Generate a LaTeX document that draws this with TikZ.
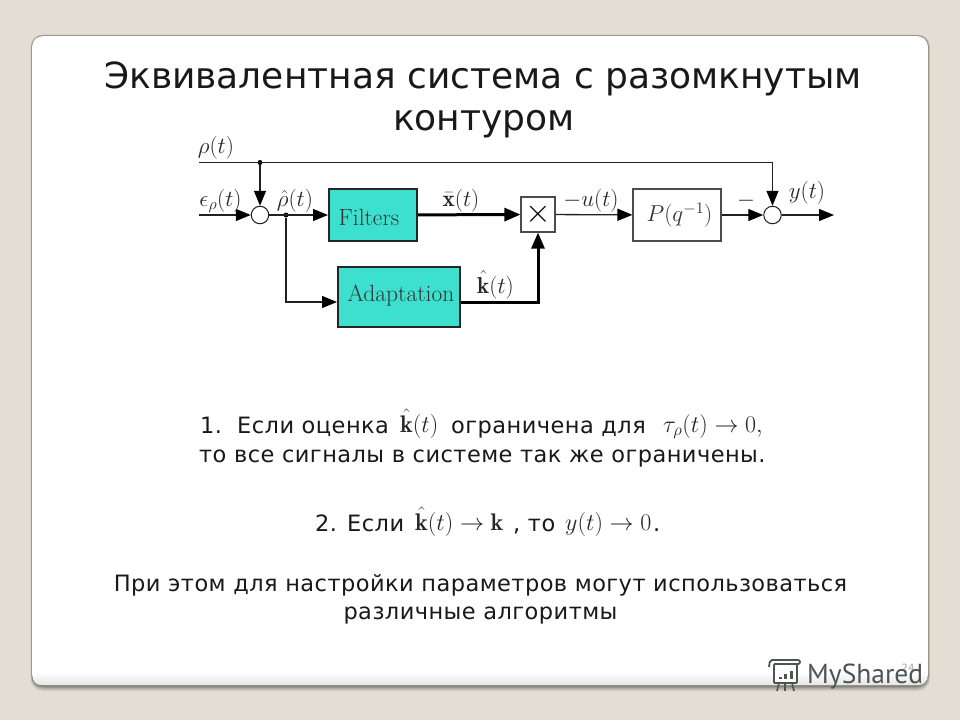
\documentclass[tikz,border=0pt]{standalone}
\usepackage{fix-cm}
\usepackage{fontspec}
\usetikzlibrary{arrows.meta}
\newfontfamily\slidefont{DejaVu Sans}
\newfontfamily\bodyfont[LetterSpace=2]{DejaVu Sans}
\newfontfamily\markfont{PT Sans}
\definecolor{slidebg}{HTML}{E3DDD3}
\definecolor{blockfill}{HTML}{3DE0CE}
\definecolor{linecol}{HTML}{202020}
\definecolor{markcol}{HTML}{4A5550}
\tikzset{
    sig/.style={line width=1.3, color=linecol, arrows=-{Triangle[length=15, width=12, color=black]}},
    sigbold/.style={line width=3, color=black, arrows=-{Triangle[length=16, width=13]}},
    wire/.style={line width=1.3, color=linecol},
    sumnode/.style={draw=linecol, line width=1, circle, fill=white, minimum size=17.5, inner sep=0},
    dotnode/.style={fill=black, circle, minimum size=5, inner sep=0},
    block/.style={draw=black!70, line width=1.1, fill=white, inner sep=0},
    tealblock/.style={draw=black!85, line width=2, fill=blockfill, inner sep=0},
    blocktext/.style={inner sep=0, color=black!80, font=\fontsize{23.5}{28}\selectfont},
    lbl/.style={anchor=base, inner sep=0, color=black!85, font=\fontsize{23}{28}\selectfont},
    body/.style={anchor=base west, inner sep=0, color=black!90, font=\bodyfont\fontsize{22.5}{26}\selectfont},
    bodymid/.style={body, anchor=base},
    formula/.style={anchor=base west, inner sep=0, color=black!85, font=\fontsize{24}{28}\selectfont},
    title/.style={anchor=base, inner sep=0, color=black!90, font=\slidefont\fontsize{36}{44}\selectfont}
}
\begin{document}
\begin{tikzpicture}[x=1pt, y=-1pt]
    \useasboundingbox (0, 0) rectangle (960, 720);

    % Slide:
    \fill[slidebg] (0, 0) rectangle (960, 720);
    \foreach \d/\o in {6/0.06, 5/0.07, 4/0.09, 3/0.11, 2/0.13, 1/0.15}
        \fill[black, opacity=\o, rounded corners=12] (32-\d/4, 36-\d/4) rectangle (928+\d/3, 685+\d);
    \fill[white, rounded corners=11] (32, 36) rectangle (928, 685);
    \shade[top color=white, bottom color=black!10, rounded corners=8] (33, 672) rectangle (927, 685);

    % Title:
    \node[title] (titleA) at (483, 88) {Эквивалентная система с разомкнутым};
    \node[title] (titleB) at (484, 130) {контуром};

    % Blocks:
    \node[sumnode] (sumA) at (260, 215) {};
    \node[sumnode] (sumB) at (772.5, 215) {};
    \node[dotnode] (dotA) at (260, 162.5) {};
    \node[dotnode] (dotB) at (286, 215) {};
    \node[tealblock, minimum width=88, minimum height=52] (filters) at (373, 215) {};
    \node[tealblock, minimum width=122, minimum height=60] (adapt) at (399, 297) {};
    \node[block, minimum width=34, minimum height=35, font=\fontsize{33}{33}\selectfont] (mult) at (538, 214.5) {$\times$};
    \node[block, minimum width=88, minimum height=52] (plant) at (677, 215) {};

    % Block texts:
    \node[blocktext] (filtersText) at (369, 217) {Filters};
    \node[blocktext] (adaptText) at (401, 295) {Adaptation};
    \node[blocktext, font=\fontsize{23}{28}\selectfont] (plantText) at (679.5, 215) {$P(q^{-1})$};

    % Free ends:
    \coordinate (rhoIn) at (199, 162.5);
    \coordinate (epsIn) at (199, 215);
    \coordinate (rhoTurn) at (772.5, 162.5);
    \coordinate (outEnd) at (834, 215);
    \coordinate (adaptIn) at (286, 302);
    \coordinate (adaptOut) at (538, 302);

    % Connectors:
    \draw[wire] (rhoIn) -- (rhoTurn);
    \draw[sig] (rhoTurn) -- (sumB);
    \draw[sig] (dotA) -- (sumA);
    \draw[sig] (epsIn) -- (sumA);
    \draw[sig] (sumA) -- (filters);
    \draw[sig] (dotB) -- (adaptIn) -- (adapt.west |- adaptIn);
    \draw[sigbold] (filters) -- (mult);
    \draw[sigbold] (adapt.east |- adaptOut) -- (adaptOut) -- (mult);
    \draw[sig] (mult) -- (plant);
    \draw[sig] (plant) -- (sumB);
    \draw[sig] (sumB) -- (outEnd);

    % Labels in diagram:
    \node[lbl] (rhoLbl) at (216, 153) {$\rho(t)$};
    \node[lbl] (epsLbl) at (220.5, 206) {$\epsilon_\rho(t)$};
    \node[lbl] (rhoHatLbl) at (295, 206) {$\hat\rho(t)$};
    \node[lbl] (xLbl) at (461, 206) {$\bar{\mathbf{x}}(t)$};
    \node[lbl] (kLbl) at (495.5, 293) {$\hat{\mathbf{k}}(t)$};
    \node[lbl] (uLbl) at (591, 206) {$-u(t)$};
    \node[lbl] (minusLbl) at (746, 206.5) {$-$};
    \node[lbl] (yLbl) at (807, 198) {$y(t)$};

    % Text:
    \node[body] (numA) at (200, 433.5) {1.};
    \node[body] (ifA) at (237, 433.5) {Если оценка};
    \node[formula] (formA) at (400, 432) {$\hat{\mathbf{k}}(t)$};
    \node[body] (boundA) at (451, 433.5) {ограничена для};
    \node[formula] (formB) at (663, 432) {$\tau_\rho(t)\to 0,$};
    \node[body] (lineB) at (199, 462) {то все сигналы в системе так же ограничены.};
    \node[body] (numB) at (315, 531) {2. Если};
    \node[formula] (formC) at (415, 530) {$\hat{\mathbf{k}}(t)\to\mathbf{k}$};
    \node[body] (thenB) at (513, 531) {, то};
    \node[formula] (formD) at (565, 530) {$y(t)\to 0$};
    \node[body] (stopB) at (653, 531) {.};
    \node[bodymid] (noteA) at (480.5, 591) {При этом для настройки параметров могут использоваться};
    \node[bodymid] (noteB) at (480.5, 619) {различные алгоритмы};

    % Page number and mark:
    \node[anchor=base, inner sep=0, color=black!35, font=\slidefont\fontsize{10}{12}\selectfont] (pageNum) at (908, 671) {24};
    \node[anchor=base west, inner sep=0, color=markcol, font=\markfont\fontsize{27.5}{30}\selectfont] (markText) at (807, 683) {MyShared};
    \draw[markcol, line width=1.8, fill=white, rounded corners=1] (774, 664) rectangle (797, 683);
    \draw[markcol, line width=1.8, rounded corners=2] (769, 667) -- (770, 660) -- (800, 660) -- (800, 664) -- (774, 664);
    \foreach \x/\h in {780/2, 785/5, 791/8}
        \fill[markcol] (\x-1.5, 679) rectangle (\x+1.5, 679-\h);
    \foreach \a/\b in {779/777, 785/785, 792/794}
        \draw[markcol, line width=1.6] (\a, 683) -- (\b, 691);
\end{tikzpicture}
\end{document}
